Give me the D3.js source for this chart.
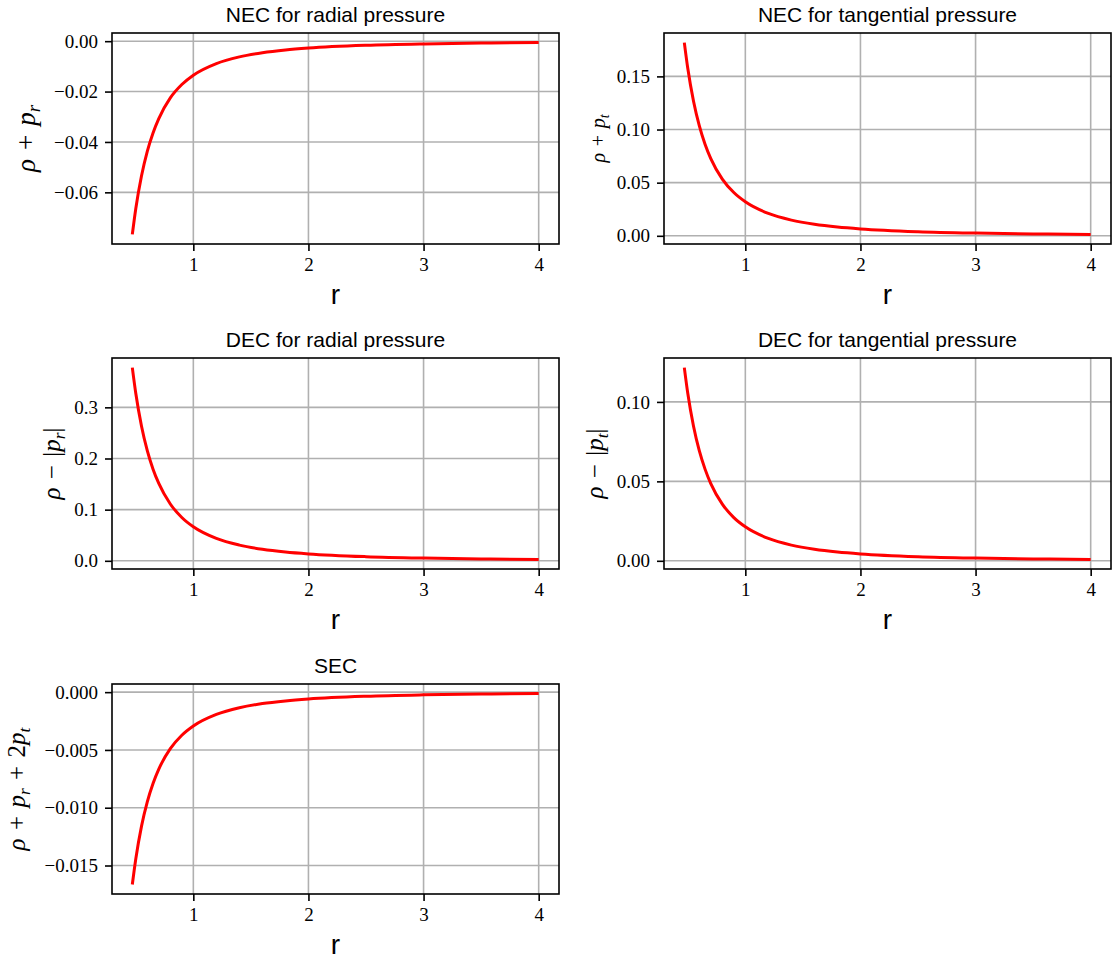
<!DOCTYPE html>
<html><head><meta charset="utf-8">
<script src="https://cdn.jsdelivr.net/npm/d3@7"></script>
<style>
html,body{margin:0;padding:0;background:#fff;}
svg{display:block;}
</style></head>
<body>
<svg id="chart" width="1112" height="960"></svg>
<script>
// ---- data ----
const rValues       = [0.47, 0.5, 0.55, 0.6, 0.65, 0.7, 0.8, 0.9, 1.0, 1.2, 1.4, 1.6, 1.8, 2.0, 2.5, 3.0, 3.5, 4.0];
const necRadial     = [-0.0767, -0.0665, -0.0534, -0.0437, -0.0364, -0.0307, -0.0225, -0.0172, -0.0135, -0.00888, -0.00623, -0.00458, -0.00349, -0.00274, -0.00164, -0.00108, -0.00076, -0.00056];
const necTangential = [0.1818, 0.1576, 0.1266, 0.1036, 0.0862, 0.0727, 0.0534, 0.0407, 0.032, 0.02104, 0.01477, 0.01086, 0.00828, 0.0065, 0.00389, 0.00256, 0.00179, 0.00132];
const decRadial     = [0.3777, 0.3275, 0.2631, 0.2154, 0.1792, 0.1512, 0.1111, 0.0847, 0.0665, 0.0437, 0.0307, 0.02256, 0.0172, 0.0135, 0.00809, 0.00531, 0.00372, 0.00274];
const decTangential = [0.1216, 0.1054, 0.0847, 0.0693, 0.0577, 0.0486, 0.0357, 0.0272, 0.0214, 0.01407, 0.00988, 0.00726, 0.00554, 0.00435, 0.0026, 0.00171, 0.0012, 0.00088];
const secValues     = [-0.01664, -0.01443, -0.01159, -0.00949, -0.0079, -0.00666, -0.00489, -0.00373, -0.00293, -0.00193, -0.00135, -0.00099, -0.00076, -0.000595, -0.000356, -0.000234, -0.000164, -0.000121];

const panelTitles = ["NEC for radial pressure", "NEC for tangential pressure", "DEC for radial pressure", "DEC for tangential pressure", "SEC"];
const xTicks = [1, 2, 3, 4];
const yTicksNecR = [0, -0.02, -0.04, -0.06];
const yTicksNecT = [0, 0.05, 0.10, 0.15];
const yTicksDecR = [0, 0.1, 0.2, 0.3];
const yTicksDecT = [0, 0.05, 0.10];
const yTicksSec  = [0, -0.005, -0.010, -0.015];
const xLabel = "r";

// ---- layout ----
const colX = [[112, 559], [664, 1111]];
const rowY = [[33, 244], [358, 569], [684, 894]];
const SP = "\u2004";

const panels = [
  {col:0,row:0,values:necRadial,title:panelTitles[0],ticks:yTicksNecR,fmt:".2f",
   label:[["ρ","i"],[SP+"+"+SP,"n"],["p","i"],["r","s"]],labelX:35,labelSize:27},
  {col:1,row:0,values:necTangential,title:panelTitles[1],ticks:yTicksNecT,fmt:".2f",
   label:[["ρ","i"],[SP+"+"+SP,"n"],["p","i"],["t","s"]],labelX:605,labelSize:20},
  {col:0,row:1,values:decRadial,title:panelTitles[2],ticks:yTicksDecR,fmt:".1f",
   label:[["ρ","i"],[SP+"−"+SP,"n"],["|","n"],["p","i"],["r","s"],["|","u"]],labelX:60,labelSize:25},
  {col:1,row:1,values:decTangential,title:panelTitles[3],ticks:yTicksDecT,fmt:".2f",
   label:[["ρ","i"],[SP+"−"+SP,"n"],["|","n"],["p","i"],["t","s"],["|","u"]],labelX:603,labelSize:25},
  {col:0,row:2,values:secValues,title:panelTitles[4],ticks:yTicksSec,fmt:".3f",
   label:[["ρ","i"],[SP+"+"+SP,"n"],["p","i"],["r","s"],[SP+"+"+SP+"2","u"],["p","i"],["t","s"]],labelX:25,labelSize:25}
];

const svg = d3.select("#chart");
const tickFont = "'Liberation Serif', 'DejaVu Serif', serif";
const sansFont = "'Liberation Sans', Arial, sans-serif";
const minus = s => s.replace("-", "\u2212");

function padExtent(arr) {
  const [a, b] = d3.extent(arr);
  const p = (b - a) * 0.05;
  return [a - p, b + p];
}

panels.forEach(p => {
  const [x0, x1] = colX[p.col];
  const [y0, y1] = rowY[p.row];
  const x = d3.scaleLinear().domain(padExtent(rValues)).range([x0, x1]);
  const y = d3.scaleLinear().domain(padExtent(p.values)).range([y1, y0]);
  const g = svg.append("g");

  // grid
  g.selectAll(".gx").data(xTicks).enter().append("line")
    .attr("x1", d => x(d)).attr("x2", d => x(d)).attr("y1", y0).attr("y2", y1)
    .attr("stroke", "#b0b0b0").attr("stroke-width", 1.6);
  g.selectAll(".gy").data(p.ticks).enter().append("line")
    .attr("y1", d => y(d)).attr("y2", d => y(d)).attr("x1", x0).attr("x2", x1)
    .attr("stroke", "#b0b0b0").attr("stroke-width", 1.6);

  // curve
  const pts = rValues.map((r, i) => [r, p.values[i]]);
  g.append("path").datum(pts)
    .attr("fill", "none").attr("stroke", "#ff0000").attr("stroke-width", 3)
    .attr("d", d3.line().x(d => x(d[0])).y(d => y(d[1])).curve(d3.curveMonotoneX));

  // axes
  const xa = g.append("g").attr("transform", `translate(0,${y1})`)
    .call(d3.axisBottom(x).tickValues(xTicks).tickSize(7).tickPadding(7).tickFormat(d3.format("d")));
  const ya = g.append("g").attr("transform", `translate(${x0},0)`)
    .call(d3.axisLeft(y).tickValues(p.ticks).tickSize(7).tickPadding(7).tickFormat(d => minus(d3.format(p.fmt)(d))));
  [xa, ya].forEach(a => {
    a.select(".domain").remove();
    a.selectAll(".tick line").attr("stroke", "#000").attr("stroke-width", 1.6);
    a.selectAll(".tick text").attr("font-family", tickFont).attr("font-size", 19).attr("fill", "#000");
  });

  // spines
  g.append("rect").attr("x", x0).attr("y", y0).attr("width", x1 - x0).attr("height", y1 - y0)
    .attr("fill", "none").attr("stroke", "#000").attr("stroke-width", 1.6);

  // title
  g.append("text").attr("x", (x0 + x1) / 2).attr("y", y0 - 11)
    .attr("text-anchor", "middle").attr("font-family", sansFont).attr("font-size", 21)
    .attr("fill", "#000").text(p.title);

  // x label
  g.append("text").attr("x", (x0 + x1) / 2).attr("y", y1 + 60)
    .attr("text-anchor", "middle").attr("font-family", sansFont).attr("font-size", 28)
    .attr("fill", "#000").text(xLabel);

  // y label (math)
  const cy = (y0 + y1) / 2;
  const t = g.append("text")
    .attr("transform", `translate(${p.labelX},${cy}) rotate(-90)`)
    .attr("text-anchor", "middle").attr("font-family", "'Liberation Serif', 'DejaVu Serif', serif")
    .attr("font-size", p.labelSize).attr("fill", "#000");
  let shifted = false;
  p.label.forEach(([s, kind]) => {
    const ts = t.append("tspan").text(s);
    if (kind === "i") ts.attr("font-style", "italic");
    if (kind === "s") {
      ts.attr("font-style", "italic").attr("font-size", p.labelSize * 0.7).attr("dy", p.labelSize * 0.2);
      shifted = true;
    } else if (shifted) {
      ts.attr("dy", -p.labelSize * 0.2);
      shifted = false;
    }
  });
});
</script>
</body></html>
